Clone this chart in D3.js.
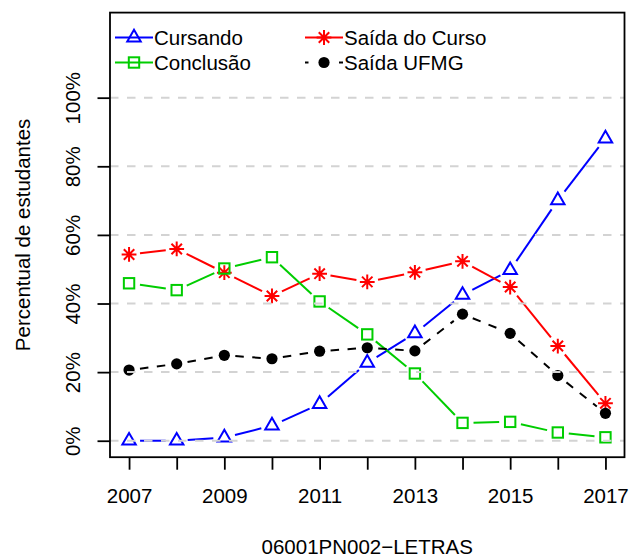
<!DOCTYPE html>
<html>
<head>
<meta charset="utf-8">
<script src="https://cdn.jsdelivr.net/npm/d3@7"></script>
<style>
  html, body { margin: 0; padding: 0; background: #fff; }
  svg { display: block; }
  text { font-family: "Liberation Sans", Arial, sans-serif; fill: #000; }
</style>
</head>
<body>
<svg id="chart" width="632" height="556"></svg>
<script>
// Student situation by entry year (percent of cohort)
const years      = [2007, 2008, 2009, 2010, 2011, 2012, 2013, 2014, 2015, 2016, 2017];
const cursando   = [0.0, 0.0, 0.9, 4.4, 10.7, 22.7, 31.3, 42.5, 49.7, 70.1, 88.1];
const saidaCurso = [54.3, 55.9, 49.0, 42.2, 48.7, 46.3, 49.1, 52.3, 44.8, 27.6, 10.9];
const conclusao  = [45.9, 43.9, 50.2, 53.5, 40.6, 31.0, 19.6, 5.2, 5.5, 2.4, 1.0];
const saidaUFMG  = [20.6, 22.4, 24.9, 23.9, 26.1, 27.1, 26.2, 36.9, 31.3, 19.0, 8.0];
const yTicks     = [0, 20, 40, 60, 80, 100];
const xLabelYears = [2007, 2009, 2011, 2013, 2015, 2017];
const yTitle = "Percentual de estudantes";
const xTitle = "06001PN002\u2212LETRAS";

const series = [
  { name: "Cursando",        values: cursando,   color: "#0000FF", shape: "triangle", dashed: false },
  { name: "Sa\u00edda do Curso", values: saidaCurso, color: "#FF0000", shape: "asterisk", dashed: false },
  { name: "Conclus\u00e3o",     values: conclusao,  color: "#00CD00", shape: "square",   dashed: false },
  { name: "Sa\u00edda UFMG",    values: saidaUFMG,  color: "#000000", shape: "dot",      dashed: true }
];

const svg = d3.select("#chart");
const FS = 20.5;
const plot = { left: 110, right: 624.5, top: 12.6, bottom: 457.2 };

const x = d3.scaleLinear().domain([2006.6, 2017.4]).range([plot.left, plot.right]);
const y = d3.scaleLinear().domain([-4.8, 124.8]).range([plot.bottom, plot.top]);

// marker drawing
function drawMarker(g, cx, cy, shape, color) {
  if (shape === "triangle") {
    const s = 5.0, r = 1.5551 * s, xc = 1.3468 * s, yc = 0.7776 * s;
    g.append("path")
      .attr("d", `M${cx},${cy - r}L${cx + xc},${cy + yc}L${cx - xc},${cy + yc}Z`)
      .attr("fill", "none").attr("stroke", color).attr("stroke-width", 2);
  } else if (shape === "square") {
    const h = 5.2;
    g.append("rect").attr("x", cx - h).attr("y", cy - h).attr("width", 2 * h).attr("height", 2 * h)
      .attr("fill", "none").attr("stroke", color).attr("stroke-width", 2);
  } else if (shape === "asterisk") {
    const L = 7.4, d = L / Math.SQRT2;
    const p = `M${cx - L},${cy}L${cx + L},${cy}M${cx},${cy - L}L${cx},${cy + L}` +
              `M${cx - d},${cy - d}L${cx + d},${cy + d}M${cx - d},${cy + d}L${cx + d},${cy - d}`;
    g.append("path").attr("d", p).attr("fill", "none").attr("stroke", color).attr("stroke-width", 2);
  } else if (shape === "dot") {
    g.append("circle").attr("cx", cx).attr("cy", cy).attr("r", 5.6).attr("fill", color);
  }
}

// lines with gaps around each point, then the points
const gap = 11;
const marks = svg.append("g");
series.forEach(s => {
  const pts = years.map((yr, i) => [x(yr), y(s.values[i])]);
  const lg = marks.append("g");
  for (let i = 0; i < pts.length - 1; i++) {
    const [x0, y0] = pts[i], [x1, y1] = pts[i + 1];
    const len = Math.hypot(x1 - x0, y1 - y0);
    if (len <= 2 * gap) continue;
    const ux = (x1 - x0) / len, uy = (y1 - y0) / len;
    lg.append("line")
      .attr("x1", x0 + ux * gap).attr("y1", y0 + uy * gap)
      .attr("x2", x1 - ux * gap).attr("y2", y1 - uy * gap)
      .attr("stroke", s.color).attr("stroke-width", 2)
      .attr("stroke-dasharray", s.dashed ? "8.5,8.5" : null);
  }
  pts.forEach(([px, py]) => drawMarker(lg, px, py, s.shape, s.color));
});

// horizontal reference lines
svg.append("g").selectAll("line").data(yTicks).join("line")
  .attr("x1", plot.left).attr("x2", plot.right)
  .attr("y1", d => y(d)).attr("y2", d => y(d))
  .attr("stroke", "#D3D3D3").attr("stroke-width", 2).attr("stroke-dasharray", "8.5,8.5");

// axes
const xAxis = d3.axisBottom(x).tickValues(years).tickSize(12.5)
  .tickFormat(d => xLabelYears.includes(d) ? String(d) : "");
const gx = svg.append("g").attr("transform", `translate(0,${plot.bottom})`).call(xAxis);
gx.select(".domain").remove();
gx.selectAll(".tick line").attr("stroke", "#000").attr("stroke-width", 1.8);
gx.selectAll(".tick text").attr("y", 503 - plot.bottom).attr("dy", null)
  .style("font-size", FS + "px").attr("fill", "#000");

const yAxis = d3.axisLeft(y).tickValues(yTicks).tickSize(12.5).tickFormat(d => d + "%");
const gy = svg.append("g").attr("transform", `translate(${plot.left},0)`).call(yAxis);
gy.select(".domain").remove();
gy.selectAll(".tick line").attr("stroke", "#000").attr("stroke-width", 1.8);
gy.selectAll(".tick text")
  .attr("x", null).attr("dy", null)
  .attr("text-anchor", "middle")
  .attr("transform", `translate(${79.5 - plot.left},0) rotate(-90)`)
  .style("font-size", FS + "px").attr("fill", "#000");

// plot box
svg.append("rect")
  .attr("x", plot.left).attr("y", plot.top)
  .attr("width", plot.right - plot.left).attr("height", plot.bottom - plot.top)
  .attr("fill", "none").attr("stroke", "#000").attr("stroke-width", 1.8);

// axis titles
svg.append("text")
  .attr("transform", `translate(29.5,${(plot.top + plot.bottom) / 2}) rotate(-90)`)
  .attr("text-anchor", "middle").style("font-size", FS + "px").text(yTitle);
svg.append("text")
  .attr("x", (plot.left + plot.right) / 2).attr("y", 553.5)
  .attr("text-anchor", "middle").style("font-size", FS + "px").text(xTitle);

// legend (two columns)
const legendPos = [
  { s: series[0], x0: 115, row: 37.5 },
  { s: series[1], x0: 305, row: 37.5 },
  { s: series[2], x0: 115, row: 62.5 },
  { s: series[3], x0: 305, row: 62.5 }
];
const lg = svg.append("g");
legendPos.forEach(({ s, x0, row }) => {
  const x1 = x0 + 38, cx = x0 + 19;
  if (s.dashed) {
    lg.append("line").attr("x1", x0).attr("x2", x0 + 3.5).attr("y1", row).attr("y2", row)
      .attr("stroke", s.color).attr("stroke-width", 2);
    lg.append("line").attr("x1", x1 - 4).attr("x2", x1).attr("y1", row).attr("y2", row)
      .attr("stroke", s.color).attr("stroke-width", 2);
  } else {
    lg.append("line").attr("x1", x0).attr("x2", x1).attr("y1", row).attr("y2", row)
      .attr("stroke", s.color).attr("stroke-width", 2);
  }
  drawMarker(lg, cx, row, s.shape, s.color);
  lg.append("text").attr("x", x1 + 1).attr("y", row).attr("dy", "0.35em")
    .style("font-size", FS + "px").text(s.name);
});
</script>
</body>
</html>
